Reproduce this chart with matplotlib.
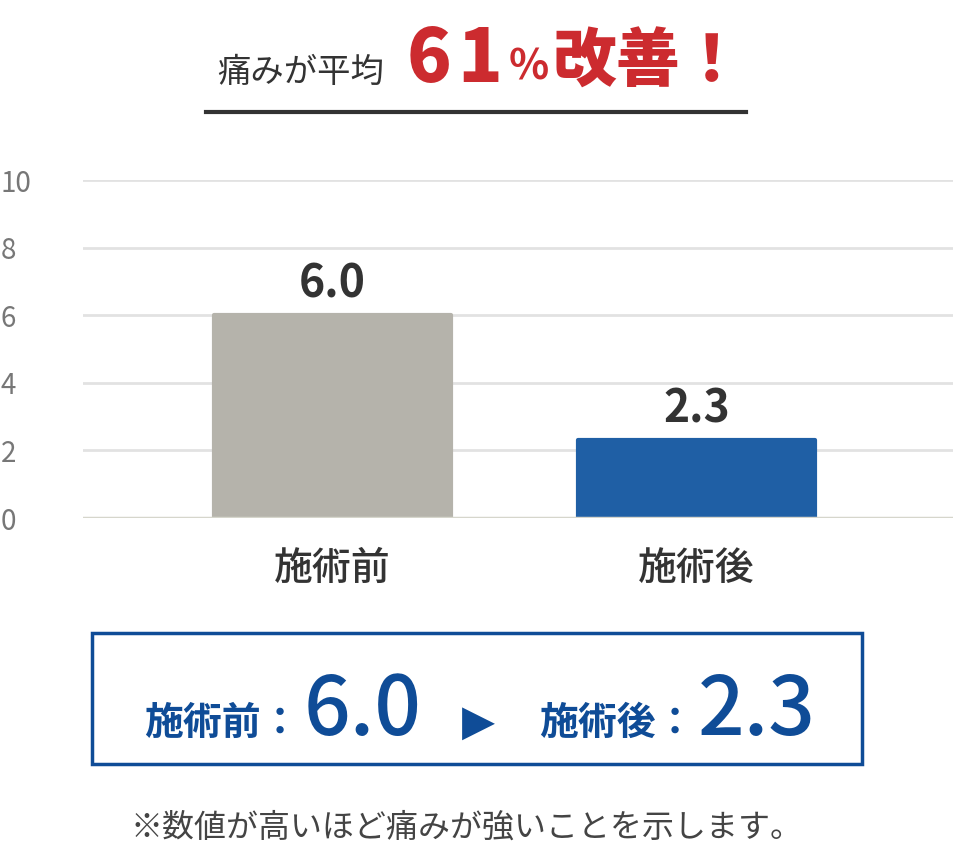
import matplotlib
matplotlib.use("Agg")
import matplotlib.pyplot as plt
from matplotlib.patches import Rectangle

plt.rcParams['font.family'] = ['Noto Sans CJK JP', 'DejaVu Sans']

# data
categories = ["施術前", "施術後"]
pain_scores = [6.0, 2.3]
bar_colors = ["#b5b3ab", "#1f5fa5"]
y_ticks = [0, 2, 4, 6, 8, 10]
improvement = "61"

W, H = 954, 858
fig = plt.figure(figsize=(W / 100, H / 100), dpi=100)

def fx(px):
    return px / W

def fy(py):
    return 1 - py / H

# chart area
ax = fig.add_axes([fx(83), fy(518), fx(954 - 83), (518 - 180) / H])
x = range(len(categories))
ax.bar(x, pain_scores, width=0.65, color=bar_colors, edgecolor=bar_colors,
       linewidth=3, joinstyle="round", zorder=3)
ax.set_xlim(-0.684, 1.707)
ax.set_ylim(0, 10)
ax.set_yticks(y_ticks)
ax.set_yticklabels([str(t) for t in y_ticks], ha="left", color="#777777", fontsize=20)
ax.tick_params(axis="y", length=0, pad=59.5)
ax.set_xticks(list(x))
ax.set_xticklabels(categories, fontsize=28, color="#333333", fontweight="medium")
ax.tick_params(axis="x", length=0, pad=22)
ax.yaxis.grid(True, color="#e2e2e2", linewidth=2, zorder=0)
ax.axhline(0, color="#d6d6cc", linewidth=2.5, zorder=4)
for s in ax.spines.values():
    s.set_visible(False)

for xi, v in zip(x, pain_scores):
    ax.text(xi, v + 0.52, f"{v:.1f}", ha="center", va="baseline",
            fontsize=32, fontweight="bold", color="#333333")

# headline
red = "#cc2b2f"
base = fy(82)
fig.text(fx(217), base, "痛みが平均", fontsize=24, color="#333333", va="baseline")
fig.text(fx(407), base, improvement[0], fontsize=53, fontweight="heavy", color=red, va="baseline")
fig.text(fx(457), base, improvement[1], fontsize=53, fontweight="heavy", color=red, va="baseline")
fig.text(fx(509), fy(80), "%", fontsize=30, fontweight="bold", color=red, va="baseline")
fig.text(fx(553), base, "改善！", fontsize=46, fontweight="heavy", color=red, va="baseline")
fig.add_artist(plt.Line2D([fx(206), fx(746)], [fy(112), fy(112)], color="#333333", linewidth=3))

# summary box
blue = "#0f4c97"
fig.add_artist(Rectangle((fx(92), fy(764)), fx(862 - 92), (764 - 633) / H,
                         fill=False, edgecolor=blue, linewidth=2.5))
b = fy(735)
fig.text(fx(144), b, f"{categories[0]}：", fontsize=28, fontweight="bold", color=blue, va="baseline")
fig.text(fx(304), b, f"{pain_scores[0]:.1f}", fontsize=59, fontweight="medium", color=blue, va="baseline")
fig.text(fx(462), b, "▶", fontsize=31, color=blue, va="baseline", family=['DejaVu Sans'])
fig.text(fx(539), b, f"{categories[1]}：", fontsize=28, fontweight="bold", color=blue, va="baseline")
fig.text(fx(698), b, f"{pain_scores[1]:.1f}", fontsize=59, fontweight="medium", color=blue, va="baseline")

fig.text(fx(467), fy(828), "※数値が高いほど痛みが強いことを示します。", fontsize=23,
         color="#444444", ha="center", va="center")

fig.savefig("out.png", dpi=100, facecolor="white")
